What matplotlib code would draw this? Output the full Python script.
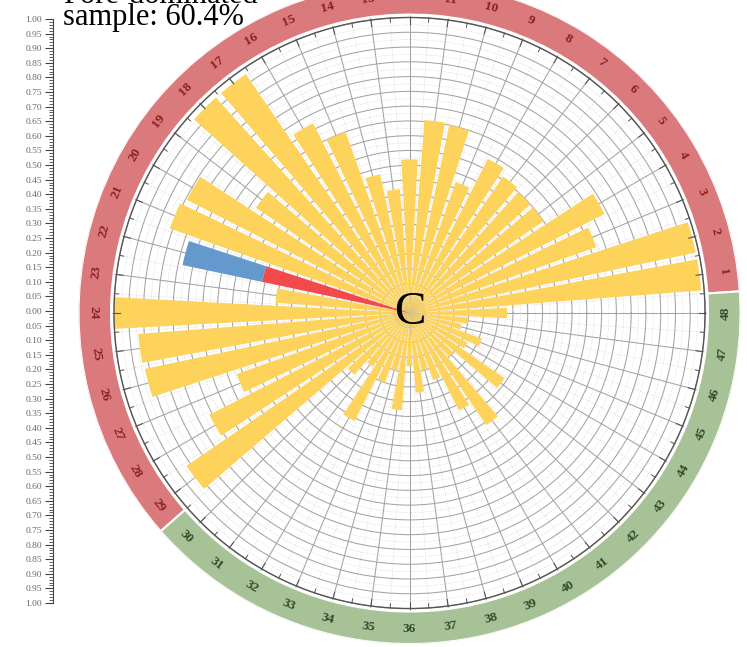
import numpy as np
import matplotlib.pyplot as plt
from matplotlib.ticker import FixedLocator, MultipleLocator, FuncFormatter

plt.rcParams['font.family'] = ['Liberation Serif', 'DejaVu Serif']

# 48 angular sectors, numbered counter-clockwise from the east
sectors = np.arange(1, 49)
yellow_vals = [0.99, 0.99, 0.67, 0.74, 0.55, 0.55, 0.56, 0.585, 0.47, 0.65,
               0.655, 0.52, 0.42, 0.48, 0.65, 0.72, 0.98, 0.98, 0.63, 0.845,
               0.86, 0.0, 0.455, 1.0, 0.92, 0.915, 0.62, 0.76, 0.915, 0.28,
               0.22, 0.41, 0.25, 0.20, 0.33, 0.18, 0.27, 0.20, 0.24, 0.37,
               0.46, 0.20, 0.39, 0.22, 0.26, 0.18, 0.20, 0.33]
red_vals = [0.51 if k == 22 else 0.0 for k in sectors]
blue_vals = [0.275 if k == 22 else 0.0 for k in sectors]

# outer ring groups: (sector count, fill colour, label colour)
ring_groups = [(29, '#db7a7d', '#8a1d25'), (19, '#a6c296', '#2f4a2c')]

title_lines = ['Pore-dominated', 'sample: 60.4%']
center_label = 'C'

fig = plt.figure(figsize=(7.47, 6.47), dpi=100)
ax = fig.add_axes([0.1051, 0.0046, 0.8862, 1.0232], projection='polar')

step = 2 * np.pi / len(sectors)
theta = sectors * step

ax.bar(theta, yellow_vals, width=step * 0.82, color='#fdd35c', zorder=2)
ax.bar(theta, red_vals, width=step * 0.82, color='#f24a4a', zorder=2)
ax.bar(theta, blue_vals, width=step * 0.82, bottom=red_vals, color='#6598cc', zorder=2)

# ring
start = 0.5
for n, fill, txt_color in ring_groups:
    ax.bar((start + n / 2) * step, 0.11, width=n * step, bottom=1.01,
           color=fill, edgecolor='white', linewidth=1.5, zorder=3)
    for k in range(int(start + 0.5), int(start + 0.5) + n):
        deg = k * 7.5
        rot = (deg + 90) % 360
        if 90 < rot < 270:
            rot -= 180
        ax.text(k * step, 1.07, str(k), rotation=rot, rotation_mode='anchor',
                ha='center', va='center', color=txt_color, fontsize=9.5,
                fontweight='bold', zorder=4)
    start += n

# outer circle and inward ticks
circ = np.linspace(0, 2 * np.pi, 400)
ax.plot(circ, np.ones_like(circ), color='#555555', lw=1.0, zorder=3)
for a in theta:
    ax.plot([a, a], [0.978, 1.0], color='#555555', lw=0.8, zorder=3)
    ax.plot([a - step / 2] * 2, [0.986, 1.0], color='#555555', lw=0.7, zorder=3)

# grid
ax.set_ylim(0, 1.12)
ax.set_yticks(np.arange(0.05, 1.0001, 0.05))
ax.yaxis.set_minor_locator(FixedLocator(np.arange(0.025, 1.0, 0.05)))
ax.set_xticks(np.deg2rad(np.arange(0, 360, 7.5)))
ax.xaxis.set_minor_locator(FixedLocator(np.deg2rad(np.arange(3.75, 360, 7.5))))
ax.set_xticklabels([])
ax.set_yticklabels([])
ax.tick_params(which='both', length=0)
ax.grid(which='major', color='#a3a3a3', lw=0.75, ls='-')
ax.grid(which='minor', color='#c8c8c8', lw=0.5, ls=(0, (1, 2)))
ax.set_axisbelow(True)
ax.spines['polar'].set_visible(False)

ax.text(0, 0, center_label, fontsize=34, ha='center', va='center', zorder=5)

# left radial scale, mirrored
lax = fig.add_axes([53 / 747, 44 / 647, 0.0005, 584 / 647])
lax.set_ylim(-1, 1)
lax.set_xticks([])
for s in ['top', 'right', 'bottom']:
    lax.spines[s].set_visible(False)
lax.spines['left'].set_color('#444444')
lax.spines['left'].set_linewidth(0.8)
lax.yaxis.set_major_locator(MultipleLocator(0.05))
lax.yaxis.set_minor_locator(MultipleLocator(0.01))
lax.yaxis.set_major_formatter(FuncFormatter(lambda v, p: '{:.2f}'.format(abs(v))))
lax.tick_params(axis='y', which='major', length=6, width=0.8, color='#444444',
                labelsize=6.8, labelcolor='#666666', pad=2)
lax.tick_params(axis='y', which='minor', length=3, width=0.6, color='#444444')

fig.text(63 / 747, 1 - 3 / 647, title_lines[0], fontsize=22, va='baseline')
fig.text(63 / 747, 1 - 25 / 647, title_lines[1], fontsize=22, va='baseline')

fig.savefig('out.png', dpi=100)
